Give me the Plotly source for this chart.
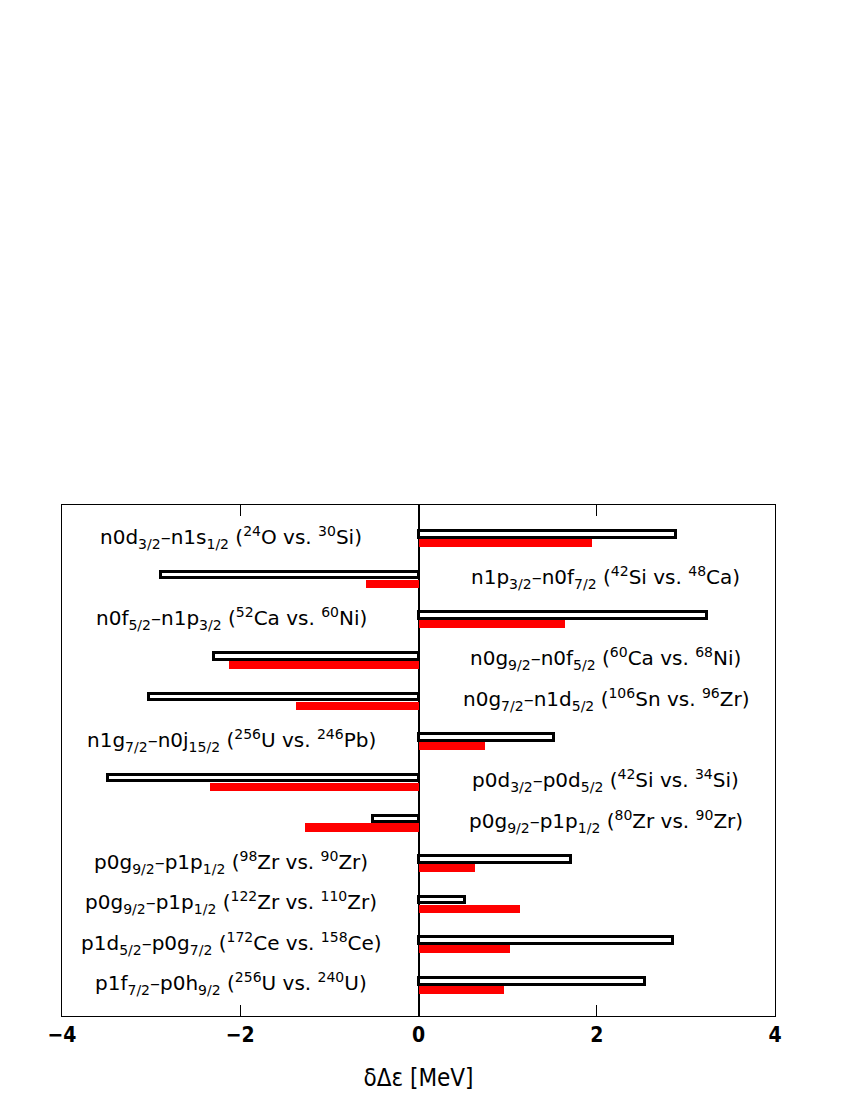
import plotly.graph_objects as go

# 準位差のシフト (MeV)
labels = [
    "n0d<sub>3/2</sub>–n1s<sub>1/2</sub> (<sup>24</sup>O vs. <sup>30</sup>Si)",
    "n1p<sub>3/2</sub>–n0f<sub>7/2</sub> (<sup>42</sup>Si vs. <sup>48</sup>Ca)",
    "n0f<sub>5/2</sub>–n1p<sub>3/2</sub> (<sup>52</sup>Ca vs. <sup>60</sup>Ni)",
    "n0g<sub>9/2</sub>–n0f<sub>5/2</sub> (<sup>60</sup>Ca vs. <sup>68</sup>Ni)",
    "n0g<sub>7/2</sub>–n1d<sub>5/2</sub> (<sup>106</sup>Sn vs. <sup>96</sup>Zr)",
    "n1g<sub>7/2</sub>–n0j<sub>15/2</sub> (<sup>256</sup>U vs. <sup>246</sup>Pb)",
    "p0d<sub>3/2</sub>–p0d<sub>5/2</sub> (<sup>42</sup>Si vs. <sup>34</sup>Si)",
    "p0g<sub>9/2</sub>–p1p<sub>1/2</sub> (<sup>80</sup>Zr vs. <sup>90</sup>Zr)",
    "p0g<sub>9/2</sub>–p1p<sub>1/2</sub> (<sup>98</sup>Zr vs. <sup>90</sup>Zr)",
    "p0g<sub>9/2</sub>–p1p<sub>1/2</sub> (<sup>122</sup>Zr vs. <sup>110</sup>Zr)",
    "p1d<sub>5/2</sub>–p0g<sub>7/2</sub> (<sup>172</sup>Ce vs. <sup>158</sup>Ce)",
    "p1f<sub>7/2</sub>–p0h<sub>9/2</sub> (<sup>256</sup>U vs. <sup>240</sup>U)",
]
white_vals = [2.89, -2.89, 3.24, -2.30, -3.02, 1.52, -3.48, -0.51, 1.71, 0.52, 2.85, 2.54]
red_vals = [1.95, -0.59, 1.64, -2.13, -1.37, 0.75, -2.34, -1.27, 0.63, 1.14, 1.03, 0.96]
rows = list(range(len(labels)))

fig = go.Figure()

# 赤いバー (下側)
fig.add_trace(go.Bar(
    y=rows, x=red_vals, orientation="h",
    width=0.2, offset=0.0,
    marker=dict(color="#ff0000", line=dict(width=0)),
    showlegend=False,
))

# 白いバー (上側, 黒枠)
fig.add_trace(go.Bar(
    y=rows, x=white_vals, orientation="h",
    width=0.16, offset=-0.195,
    marker=dict(color="white", line=dict(color="black", width=3)),
    showlegend=False,
))

# ラベルはバーの反対側に置く
for r, lab, w in zip(rows, labels, white_vals):
    side = -2.1 if w > 0 else 2.1
    fig.add_annotation(
        x=side, y=r, text=lab, showarrow=False,
        xanchor="center", yanchor="middle", yshift=2,
        font=dict(family="DejaVu Sans", size=20, color="black"),
    )

fig.update_layout(
    width=850, height=1100,
    margin=dict(l=54, r=83, t=497, b=92),
    paper_bgcolor="white", plot_bgcolor="white",
    barmode="overlay",
    bargap=0,
)

fig.update_xaxes(
    range=[-4, 4],
    tickvals=[-4, -2, 0, 2, 4],
    ticktext=["−4", "−2", "0", "2", "4"],
    ticks="inside", ticklen=11, tickwidth=1.2, tickcolor="black",
    showline=True, linecolor="black", linewidth=1.2, mirror="ticks",
    showgrid=False,
    zeroline=True, zerolinecolor="black", zerolinewidth=1.5,
    tickfont=dict(family="DejaVu Sans Condensed", size=21, color="black", weight="bold"),
    title=dict(text="δΔε [MeV]", font=dict(family="DejaVu Sans Condensed", size=24, color="black"), standoff=22),
)

fig.update_yaxes(
    range=[11.74, -0.84],
    showticklabels=False, ticks="",
    showline=True, linecolor="black", linewidth=1.2, mirror=True,
    showgrid=False, zeroline=False,
)

fig.write_html("out.html")
